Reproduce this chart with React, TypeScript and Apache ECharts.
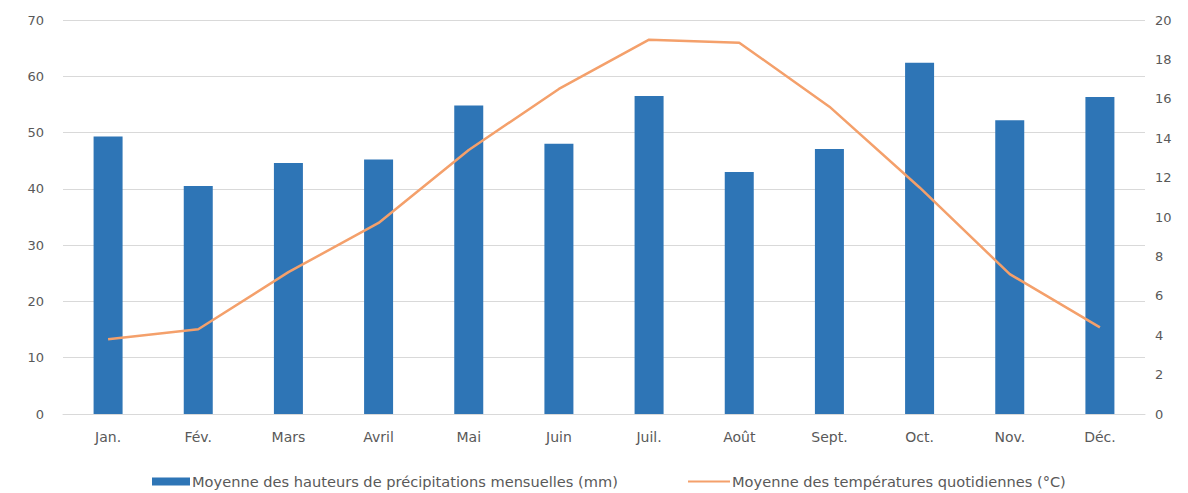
import React, { useEffect, useRef } from "react";
import * as echarts from "echarts";

const months = ["Jan.", "Fév.", "Mars", "Avril", "Mai", "Juin", "Juil.", "Août", "Sept.", "Oct.", "Nov.", "Déc."];
const precipitation = [49.3, 40.5, 44.6, 45.2, 54.8, 48.0, 56.5, 43.0, 47.1, 62.4, 52.2, 56.3];
const temperature = [3.8, 4.3, 7.2, 9.7, 13.4, 16.5, 19.0, 18.85, 15.6, 11.5, 7.1, 4.4];
const precipName = "Moyenne des hauteurs de précipitations mensuelles (mm)";
const tempName = "Moyenne des températures quotidiennes (°C)";

export default function App() {
  const ref = useRef<HTMLDivElement>(null);
  useEffect(() => {
    document.body.style.margin = "0";
    const chart = echarts.init(ref.current!, undefined, { renderer: "svg" });
    const font = "'DejaVu Sans', 'Liberation Sans', sans-serif";
    const labelColor = "#595959";
    chart.setOption({
      animation: false,
      textStyle: { fontFamily: font },
      grid: { left: 63, right: 43, top: 20, bottom: 79, containLabel: false },
      legend: [
        {
          left: 147,
          top: 469,
          itemWidth: 38,
          itemHeight: 8,
          itemGap: 5,
          textStyle: { color: labelColor, fontSize: 14.6, fontFamily: font, padding: [0, 0, 0, -3] },
          data: [{ name: precipName, icon: "rect" }],
        },
        {
          left: 683,
          top: 469,
          itemWidth: 42,
          itemHeight: 2,
          textStyle: { color: labelColor, fontSize: 14.6, fontFamily: font, padding: [0, 0, 0, -3] },
          data: [{ name: tempName, icon: "rect" }],
        },
      ],
      xAxis: {
        type: "category",
        data: months,
        axisLine: { lineStyle: { color: "#d9d9d9" } },
        axisTick: { show: false },
        axisLabel: { color: labelColor, fontSize: 14, margin: 16 },
      },
      yAxis: [
        {
          type: "value",
          min: 0,
          max: 70,
          interval: 10,
          axisLine: { show: false },
          axisTick: { show: false },
          axisLabel: { color: labelColor, fontSize: 13, margin: 19 },
          splitLine: { lineStyle: { color: "#d9d9d9" } },
        },
        {
          type: "value",
          min: 0,
          max: 20,
          interval: 2,
          axisLine: { show: false },
          axisTick: { show: false },
          axisLabel: { color: labelColor, fontSize: 13, margin: 10 },
          splitLine: { show: false },
        },
      ],
      series: [
        {
          name: precipName,
          type: "bar",
          data: precipitation,
          barWidth: 29,
          itemStyle: { color: "#2E75B6" },
        },
        {
          name: tempName,
          type: "line",
          yAxisIndex: 1,
          data: temperature,
          symbol: "none",
          lineStyle: { color: "#F4A06B", width: 2.5 },
          itemStyle: { color: "#F4A06B" },
        },
      ],
    });
    return () => chart.dispose();
  }, []);
  return <div ref={ref} style={{ width: 1188, height: 493 }} />;
}
